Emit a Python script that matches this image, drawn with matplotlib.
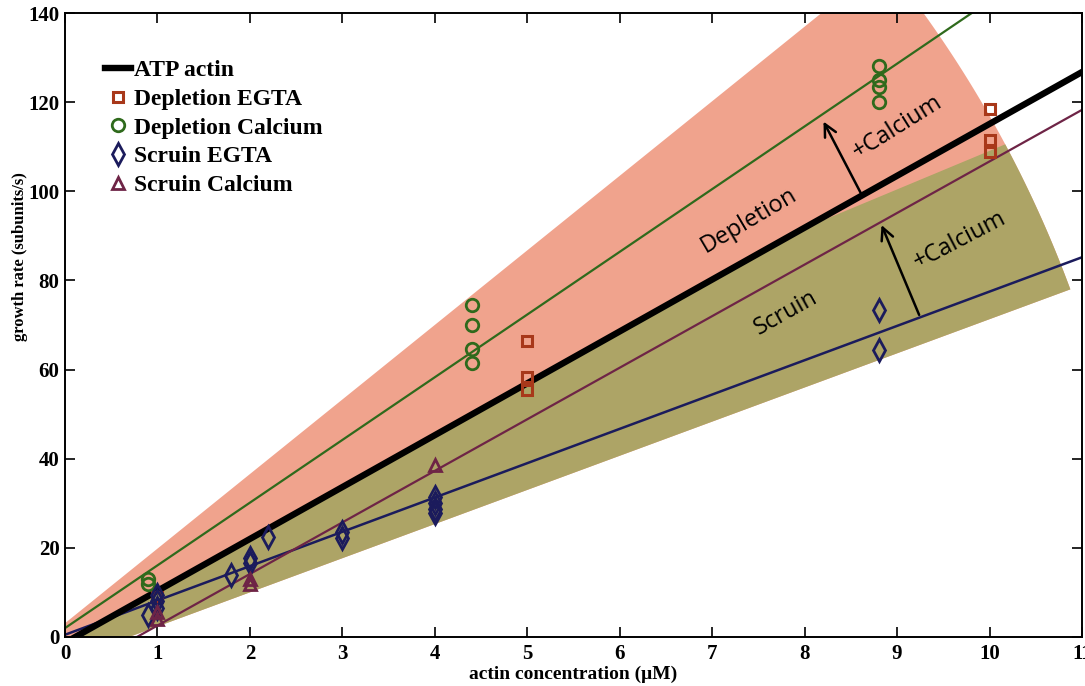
import numpy as np
import matplotlib.pyplot as plt
from matplotlib.patches import Polygon

# linear fits: rate = slope * conc + intercept
atp_fit = (11.64, -1.28)
dep_ca_fit = (14.07, 2.0)
scr_egta_fit = (7.7, 0.5)
scr_ca_fit = (11.57, -9.0)

# measured growth rates (subunits/s) vs actin concentration (uM)
dep_egta_x = [1.0, 5.0, 5.0, 5.0, 10.0, 10.0, 10.0]
dep_egta_y = [9.0, 66.4, 58.3, 55.4, 118.5, 111.5, 108.8]

dep_ca_x = [0.9, 0.9, 4.4, 4.4, 4.4, 4.4, 8.8, 8.8, 8.8, 8.8]
dep_ca_y = [12.0, 13.0, 74.5, 70.0, 64.6, 61.5, 128.1, 125.0, 123.4, 120.0]

scr_egta_x = [0.9, 1.0, 1.0, 1.0, 1.8, 2.0, 2.0, 2.2, 3.0, 3.0, 4.0, 4.0, 4.0, 4.0, 8.8, 8.8]
scr_egta_y = [5.0, 6.5, 8.0, 9.5, 13.8, 16.5, 17.8, 22.5, 22.2, 23.5, 27.8, 28.8, 30.0, 31.5, 73.4, 64.3]

scr_ca_x = [1.0, 1.0, 2.0, 2.0, 4.0]
scr_ca_y = [4.0, 5.5, 12.0, 13.0, 38.6]

x_ticks = list(range(0, 12))
y_ticks = list(range(0, 141, 20))

# shaded sectors
sector_apex = (-0.926, -12.4)
sector_radius = 1163  # pixels
dep_upper = (16.73, 3.1)
scr_lower = (7.66, -5.3)
scr_top_x = [-2.0, 0.0, 8.2, 10.2, 12.0]
scr_top_y = [-24.6, -1.3, 93.5, 110.8, 126.4]

pink = '#F0A38D'
olive = '#ADA466'
c_green = '#2F6A1C'
c_navy = '#1B1B5C'
c_plum = '#6E2446'
c_brick = '#A8381A'

serif = 'Liberation Serif'
sans = 'Open Sans'

fig = plt.figure(figsize=(10.85, 6.86), dpi=100)
ax = fig.add_axes([65 / 1085, 49 / 686, 1017 / 1085, 624 / 686])
ax.set_xlim(0, 11)
ax.set_ylim(0, 140)


def sector_patch(color, z):
    to_px = ax.transData
    apex = to_px.transform(sector_apex)
    angs = []
    for m, b in (scr_lower, dep_upper):
        p = to_px.transform((8.0, m * 8.0 + b))
        angs.append(np.arctan2(p[1] - apex[1], p[0] - apex[0]))
    t = np.linspace(angs[0], angs[1], 200)
    arc = np.column_stack([apex[0] + sector_radius * np.cos(t),
                           apex[1] + sector_radius * np.sin(t)])
    pts = to_px.inverted().transform(np.vstack([apex, arc]))
    return Polygon(pts, closed=True, facecolor=color, edgecolor='none', zorder=z)


ax.add_patch(sector_patch(pink, 0.5))
olive_sec = sector_patch(olive, 0.6)
ax.add_patch(olive_sec)
clip = Polygon(list(zip(scr_top_x, scr_top_y)) + [(12.0, -40.0), (-2.0, -40.0)],
               closed=True, transform=ax.transData)
olive_sec.set_clip_path(clip)

xx = np.array([-0.5, 11.5])
ax.plot(xx, atp_fit[0] * xx + atp_fit[1], color='black', lw=4.6, zorder=3, label='ATP actin')
ax.plot(xx, dep_ca_fit[0] * xx + dep_ca_fit[1], color=c_green, lw=1.6, zorder=2)
ax.plot(xx, scr_egta_fit[0] * xx + scr_egta_fit[1], color=c_navy, lw=1.8, zorder=2)
ax.plot(xx, scr_ca_fit[0] * xx + scr_ca_fit[1], color=c_plum, lw=1.6, zorder=2)

mk = dict(linestyle='none', markerfacecolor='none', zorder=4)
ax.plot(dep_egta_x, dep_egta_y, marker='s', ms=7, mew=2.2, color=c_brick, label='Depletion EGTA', **mk)
ax.plot(dep_ca_x, dep_ca_y, marker='o', ms=9, mew=2.0, color=c_green, label='Depletion Calcium', **mk)
ax.plot(scr_egta_x, scr_egta_y, marker='d', ms=11, mew=2.0, color=c_navy, label='Scruin EGTA', **mk)
ax.plot(scr_ca_x, scr_ca_y, marker='^', ms=8, mew=2.0, color=c_plum, label='Scruin Calcium', **mk)

# +Calcium arrows between fit lines
arr = dict(arrowstyle='->', lw=1.8, color='black', mutation_scale=22)
ax.annotate('', xy=(8.19, 116.2), xytext=(8.62, 99.1), arrowprops=arr, zorder=5)
ax.annotate('', xy=(8.82, 93.0), xytext=(9.25, 71.7), arrowprops=arr, zorder=5)

txt = dict(family=sans, fontsize=17, ha='center', va='center', rotation_mode='anchor', zorder=5)
ax.text(7.40, 93.5, 'Depletion', rotation=30.5, **txt)
ax.text(7.80, 72.7, 'Scruin', rotation=29.3, **txt)
ax.text(9.00, 114.4, '+Calcium', rotation=32.0, **txt)
ax.text(9.68, 89.1, '+Calcium', rotation=27.6, **txt)

ax.set_xticks(x_ticks)
ax.set_yticks(y_ticks)
ax.tick_params(direction='in', length=7, width=1.2, top=True, right=True,
               labelsize=15, pad=5)
ax.tick_params(axis='y', pad=4)
for lab in ax.get_xticklabels() + ax.get_yticklabels():
    lab.set_fontfamily(serif)
    lab.set_fontweight('bold')
for s in ax.spines.values():
    s.set_linewidth(1.4)

ax.set_xlabel('actin concentration (\u03bcM)', family=serif, fontweight='bold', fontsize=14, labelpad=1)
ax.set_ylabel('growth rate (subunits/s)', family=serif, fontweight='bold', fontsize=12)
ax.yaxis.set_label_coords(-0.0365, 0.609)

leg = ax.legend(loc='upper left', bbox_to_anchor=(0.03, 0.94), frameon=False,
                handlelength=1.1, handletextpad=0.15, labelspacing=0.3, numpoints=1,
                prop=dict(family=serif, weight='bold', size=17), borderaxespad=0)

fig.savefig('out.png', dpi=100)
